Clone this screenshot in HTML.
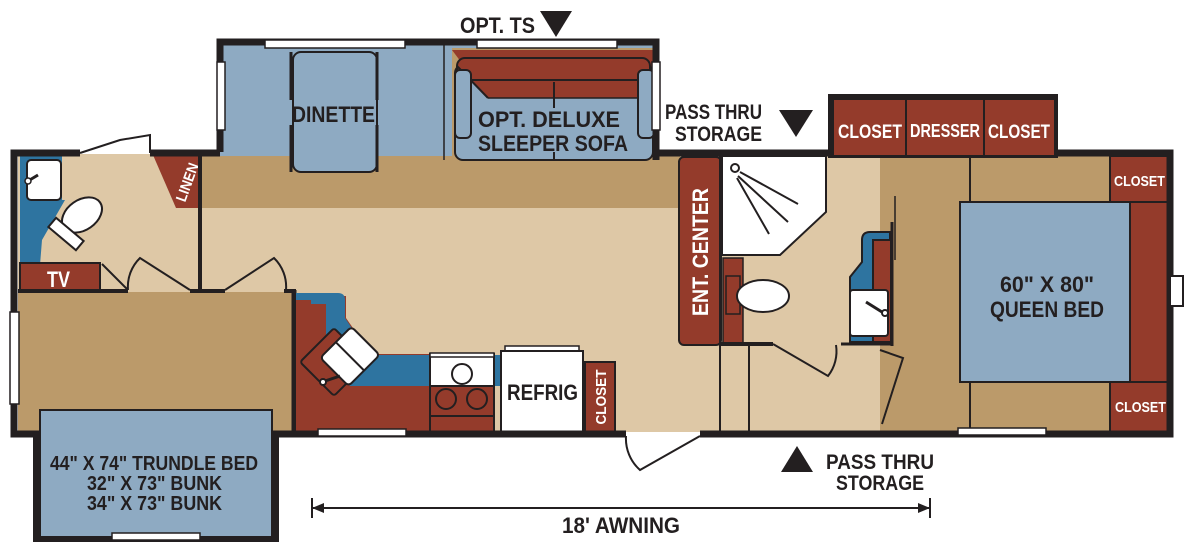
<!DOCTYPE html>
<html><head><meta charset="utf-8"><style>
html,body{margin:0;padding:0;background:#fff;}
svg{display:block}
text{font-family:"Liberation Sans Narrow","Liberation Sans",sans-serif;font-weight:bold;}
</style></head><body>
<svg width="1200" height="553" viewBox="0 0 1200 553" xmlns="http://www.w3.org/2000/svg">
<!-- floors -->
<rect x="18" y="154" width="1152" height="278" fill="#dec8a6"/>
<rect x="200" y="154" width="480" height="54" fill="#bb9a6a"/>
<rect x="18" y="292" width="274" height="140" fill="#bb9a6a"/>
<rect x="880" y="154" width="290" height="278" fill="#bb9a6a"/>
<!-- dinette slideout -->
<rect x="220" y="44" width="438" height="112" fill="#8eaac2"/>
<rect x="452" y="48" width="204" height="110" fill="#bb9a6a"/>
<polygon points="452,50 656,50 656,98 488,98" fill="#943b2b"/>
<rect x="455" y="65" width="198" height="95" rx="8" fill="#8eaac2" stroke="#231f20" stroke-width="2"/>
<polygon points="457,66 651,66 651,98 488,98" fill="#943b2b"/>
<rect x="457" y="58" width="193" height="22" rx="8" fill="#943b2b" stroke="#231f20" stroke-width="2"/>
<line x1="457" y1="66" x2="488" y2="98" stroke="#231f20" stroke-width="2"/>
<line x1="488" y1="98" x2="651" y2="98" stroke="#231f20" stroke-width="1.5"/>
<rect x="455" y="70" width="16" height="68" rx="5" fill="#8eaac2" stroke="#231f20" stroke-width="2"/>
<rect x="638" y="70" width="16" height="68" rx="5" fill="#8eaac2" stroke="#231f20" stroke-width="2"/>
<line x1="554" y1="82" x2="554" y2="108" stroke="#231f20" stroke-width="2"/>
<line x1="554" y1="152" x2="554" y2="160" stroke="#231f20" stroke-width="2"/>
<rect x="293" y="52" width="84" height="120" rx="8" fill="#8eaac2" stroke="#231f20" stroke-width="2"/>
<line x1="291" y1="52" x2="291" y2="100" stroke="#231f20" stroke-width="3"/>
<line x1="377" y1="52" x2="377" y2="100" stroke="#231f20" stroke-width="3"/>
<line x1="291" y1="125" x2="291" y2="172" stroke="#231f20" stroke-width="3"/>
<line x1="377" y1="125" x2="377" y2="172" stroke="#231f20" stroke-width="3"/>
<path d="M220,152 V42 H656 V160" fill="none" stroke="#231f20" stroke-width="7"/>
<line x1="444" y1="44" x2="444" y2="160" stroke="#231f20" stroke-width="1.5"/>
<rect x="265" y="40" width="140" height="8" fill="#fff" stroke="#231f20" stroke-width="1.5"/>
<rect x="477" y="40" width="140" height="8" fill="#fff" stroke="#231f20" stroke-width="1.5"/>
<rect x="217" y="62" width="8" height="68" fill="#fff" stroke="#231f20" stroke-width="1.5"/>
<rect x="652" y="62" width="8" height="68" fill="#fff" stroke="#231f20" stroke-width="1.5"/>
<text x="292" y="122" font-size="22" fill="#231f20" textLength="83" lengthAdjust="spacingAndGlyphs">DINETTE</text>
<text x="478" y="127" font-size="22" fill="#231f20" textLength="142" lengthAdjust="spacingAndGlyphs">OPT. DELUXE</text>
<text x="478" y="151" font-size="22" fill="#231f20" textLength="150" lengthAdjust="spacingAndGlyphs">SLEEPER SOFA</text>
<!-- bedroom slideout -->
<rect x="828" y="94" width="230" height="64" fill="#231f20"/>
<rect x="834" y="100" width="220" height="55" fill="#943b2b"/>
<line x1="906" y1="100" x2="906" y2="156" stroke="#231f20" stroke-width="2"/>
<line x1="984" y1="100" x2="984" y2="156" stroke="#231f20" stroke-width="2"/>
<text x="838" y="138" font-size="19" fill="#fff" textLength="64" lengthAdjust="spacingAndGlyphs">CLOSET</text>
<text x="910" y="137" font-size="18" fill="#fff" textLength="70" lengthAdjust="spacingAndGlyphs">DRESSER</text>
<text x="988" y="138" font-size="19" fill="#fff" textLength="62" lengthAdjust="spacingAndGlyphs">CLOSET</text>
<!-- left bath -->
<rect x="20" y="155" width="42" height="50" fill="#2e74a0"/>
<rect x="20" y="155" width="20" height="110" fill="#2e74a0"/>
<polygon points="40,200 65,200 42,240 40,265" fill="#2e74a0"/>
<rect x="27" y="160" width="34" height="40" rx="4" fill="#fff" stroke="#231f20" stroke-width="2"/>
<line x1="28" y1="181" x2="38" y2="175" stroke="#231f20" stroke-width="3"/>
<circle cx="28" cy="181" r="3" fill="#fff" stroke="#231f20" stroke-width="1.5"/>
<ellipse cx="82" cy="215" rx="22" ry="15" transform="rotate(-35 82 215)" fill="#fff" stroke="#231f20" stroke-width="2"/>
<rect x="48" y="228" width="36" height="12" transform="rotate(40 66 234)" fill="#fff" stroke="#231f20" stroke-width="2"/>
<rect x="20" y="263" width="80" height="28" fill="#943b2b" stroke="#231f20" stroke-width="2"/>
<text x="47" y="287" font-size="22" fill="#fff" textLength="23" lengthAdjust="spacingAndGlyphs">TV</text>
<polygon points="153,155 200,155 200,208 176,208" fill="#943b2b"/>
<text x="0" y="0" font-size="15" fill="#fff" transform="translate(192,184) rotate(-70)" text-anchor="middle" textLength="40" lengthAdjust="spacingAndGlyphs">LINEN</text>
<!-- left bedroom walls -->
<path d="M102,264 L128,290 M128,290 A40,40 0 0 1 140,258 L190,290" fill="none" stroke="#231f20" stroke-width="2"/>
<path d="M225,290 L274,258 A40,40 0 0 1 286,290" fill="none" stroke="#231f20" stroke-width="2"/>
<line x1="200" y1="152" x2="200" y2="292" stroke="#231f20" stroke-width="4"/>
<line x1="18" y1="291" x2="128" y2="291" stroke="#231f20" stroke-width="4"/>
<line x1="190" y1="291" x2="225" y2="291" stroke="#231f20" stroke-width="4"/>
<line x1="284" y1="291" x2="296" y2="291" stroke="#231f20" stroke-width="4"/>
<line x1="294" y1="290" x2="294" y2="432" stroke="#231f20" stroke-width="5"/>
<!-- kitchen -->
<rect x="296" y="296" width="134" height="136" fill="#943b2b"/>
<path d="M296,293 H338 Q345,293 345,300 V318 L370,355 L500,355 L500,386 H350 L310,330 V300 H296 Z" fill="#2e74a0"/>
<polygon points="346,318 346,296 430,296 430,354 371,354" fill="#dec8a6"/>
<rect x="296" y="300" width="15" height="132" fill="#943b2b"/>
<rect x="311" y="304" width="15" height="60" fill="#943b2b"/>
<rect x="310" y="338" width="48" height="48" transform="rotate(45 334 362)" fill="#943b2b" stroke="#231f20" stroke-width="2" rx="3"/>
<g transform="rotate(-45 345 350)"><rect x="322" y="338" width="44" height="40" rx="4" fill="#fff" stroke="#231f20" stroke-width="2"/><line x1="344" y1="338" x2="344" y2="378" stroke="#231f20" stroke-width="2"/></g>
<circle cx="323" cy="382" r="3" fill="#fff" stroke="#231f20" stroke-width="2"/>
<line x1="325" y1="381" x2="340" y2="376" stroke="#231f20" stroke-width="3"/>
<rect x="430" y="354" width="64" height="78" fill="#943b2b" stroke="#231f20" stroke-width="2"/>
<rect x="430" y="356" width="64" height="30" fill="#fff" stroke="#231f20" stroke-width="2"/>
<rect x="430" y="353" width="64" height="4" fill="#fff" stroke="#231f20" stroke-width="1.5"/>
<circle cx="462" cy="374" r="10" fill="#fff" stroke="#231f20" stroke-width="2"/>
<circle cx="446" cy="399" r="10" fill="none" stroke="#231f20" stroke-width="2"/>
<circle cx="477" cy="399" r="10" fill="none" stroke="#231f20" stroke-width="2"/>
<line x1="430" y1="416" x2="494" y2="416" stroke="#231f20" stroke-width="2"/>
<rect x="505" y="346" width="74" height="6" fill="#fff" stroke="#231f20" stroke-width="1.5"/>
<rect x="501" y="351" width="82" height="81" fill="#fff" stroke="#231f20" stroke-width="2"/>
<text x="507" y="400" font-size="22" fill="#231f20" textLength="71" lengthAdjust="spacingAndGlyphs">REFRIG</text>
<rect x="585" y="362" width="30" height="70" fill="#943b2b" stroke="#231f20" stroke-width="2"/>
<text x="0" y="0" font-size="15" fill="#fff" transform="translate(606,397) rotate(-90)" text-anchor="middle" textLength="55" lengthAdjust="spacingAndGlyphs">CLOSET</text>
<!-- ent center / bath -->
<rect x="679" y="157" width="42" height="188" rx="5" fill="#943b2b" stroke="#231f20" stroke-width="2"/>
<text x="0" y="0" font-size="22" fill="#fff" transform="translate(708,252) rotate(-90)" text-anchor="middle" textLength="128" lengthAdjust="spacingAndGlyphs">ENT. CENTER</text>
<polygon points="722,156 826,156 826,212 780,255 722,255" fill="#fff" stroke="#231f20" stroke-width="2"/>
<circle cx="735" cy="168" r="4" fill="#fff" stroke="#231f20" stroke-width="2"/>
<path d="M740,172 L798,204 M738,176 L788,222 M737,178 L769,234" stroke="#231f20" stroke-width="2"/>
<rect x="723" y="258" width="20" height="86" fill="#943b2b" stroke="#231f20" stroke-width="1.5"/>
<rect x="726" y="276" width="14" height="38" fill="#943b2b" stroke="#231f20" stroke-width="1.5"/>
<ellipse cx="763" cy="296" rx="26" ry="16" fill="#fff" stroke="#231f20" stroke-width="2"/>
<line x1="720" y1="155" x2="720" y2="432" stroke="#231f20" stroke-width="2"/>
<line x1="749" y1="345" x2="749" y2="432" stroke="#231f20" stroke-width="2"/>
<line x1="720" y1="344" x2="773" y2="344" stroke="#231f20" stroke-width="4"/>
<path d="M773,344 L828,376 A40,40 0 0 0 836,345" fill="none" stroke="#231f20" stroke-width="2"/>
<!-- right bath sink -->
<path d="M862,342 H890 V232 H870 Q862,232 862,240 V262 L850,277 V342 Z" fill="#2e74a0" stroke="#231f20" stroke-width="2"/>
<rect x="873" y="240" width="18" height="102" fill="#943b2b" stroke="#231f20" stroke-width="2"/>
<rect x="850" y="290" width="38" height="46" rx="3" fill="#fff" stroke="#231f20" stroke-width="2"/>
<line x1="866" y1="302" x2="882" y2="312" stroke="#231f20" stroke-width="3"/>
<circle cx="885" cy="313" r="3" fill="#fff" stroke="#231f20" stroke-width="2"/>
<line x1="841" y1="344" x2="892" y2="344" stroke="#231f20" stroke-width="3"/>
<line x1="892" y1="222" x2="892" y2="346" stroke="#231f20" stroke-width="3"/>
<line x1="895" y1="196" x2="895" y2="260" stroke="#231f20" stroke-width="1.5"/>
<path d="M880,350 L903,358 L882,424" fill="none" stroke="#231f20" stroke-width="2"/>
<!-- bedroom -->
<line x1="970" y1="155" x2="970" y2="430" stroke="#231f20" stroke-width="2"/>
<rect x="1110" y="156" width="58" height="46" fill="#943b2b" stroke="#231f20" stroke-width="2"/>
<rect x="1110" y="382" width="58" height="50" fill="#943b2b" stroke="#231f20" stroke-width="2"/>
<rect x="1130" y="202" width="38" height="180" fill="#943b2b" stroke="#231f20" stroke-width="2"/>
<rect x="960" y="202" width="170" height="180" fill="#8eaac2" stroke="#231f20" stroke-width="2"/>
<text x="1114" y="186" font-size="15" fill="#fff" textLength="51" lengthAdjust="spacingAndGlyphs">CLOSET</text>
<text x="1115" y="412" font-size="15" fill="#fff" textLength="51" lengthAdjust="spacingAndGlyphs">CLOSET</text>
<text x="1000" y="292" font-size="22" fill="#231f20" textLength="94" lengthAdjust="spacingAndGlyphs">60" X 80"</text>
<text x="990" y="317" font-size="22" fill="#231f20" textLength="114" lengthAdjust="spacingAndGlyphs">QUEEN BED</text>
<!-- outer walls -->
<path d="M80,153 H14 V434 H626" fill="none" stroke="#231f20" stroke-width="7"/>
<path d="M150,153 H220" fill="none" stroke="#231f20" stroke-width="7"/>
<path d="M656,153 H828 M1058,153 H1170 V434 H700" fill="none" stroke="#231f20" stroke-width="7"/>
<path d="M80,153 L120,140 L150,135 V153" fill="#fff" stroke="#231f20" stroke-width="2"/>
<rect x="10" y="312" width="9" height="92" fill="#fff" stroke="#231f20" stroke-width="1.5"/>
<rect x="318" y="429" width="88" height="7" fill="#fff" stroke="#231f20" stroke-width="1.5"/>
<rect x="958" y="428" width="88" height="7" fill="#fff" stroke="#231f20" stroke-width="1.5"/>
<rect x="1170" y="276" width="13" height="30" fill="#fff" stroke="#231f20" stroke-width="2"/>
<path d="M626,436 A42,42 0 0 0 640,470 L700,436" fill="none" stroke="#231f20" stroke-width="2"/>
<!-- bunk slide -->
<rect x="40" y="410" width="232" height="130" fill="#8eaac2" stroke="#231f20" stroke-width="2"/>
<rect x="33" y="432" width="8" height="108" fill="#231f20"/>
<rect x="272" y="432" width="7" height="108" fill="#231f20"/>
<rect x="33" y="536" width="246" height="6" fill="#231f20"/>
<rect x="112" y="533" width="88" height="7" fill="#fff" stroke="#231f20" stroke-width="1.5"/>
<text x="50" y="470" font-size="20" fill="#231f20" textLength="208" lengthAdjust="spacingAndGlyphs">44" X 74" TRUNDLE BED</text>
<text x="87" y="490" font-size="20" fill="#231f20" textLength="135" lengthAdjust="spacingAndGlyphs">32" X 73" BUNK</text>
<text x="87" y="510" font-size="20" fill="#231f20" textLength="135" lengthAdjust="spacingAndGlyphs">34" X 73" BUNK</text>
<!-- labels -->
<text x="460" y="33" font-size="22" fill="#231f20" textLength="75" lengthAdjust="spacingAndGlyphs">OPT. TS</text>
<polygon points="540,11 572,11 556,37" fill="#231f20"/>
<text x="665" y="119" font-size="21" fill="#231f20" textLength="97" lengthAdjust="spacingAndGlyphs">PASS THRU</text>
<text x="675" y="141" font-size="21" fill="#231f20" textLength="87" lengthAdjust="spacingAndGlyphs">STORAGE</text>
<polygon points="779,110 813,110 796,137" fill="#231f20"/>
<polygon points="781,472 813,472 797,446" fill="#231f20"/>
<text x="826" y="469" font-size="21" fill="#231f20" textLength="108" lengthAdjust="spacingAndGlyphs">PASS THRU</text>
<text x="836" y="490" font-size="21" fill="#231f20" textLength="88" lengthAdjust="spacingAndGlyphs">STORAGE</text>
<line x1="312" y1="508" x2="930" y2="508" stroke="#231f20" stroke-width="2"/>
<line x1="312" y1="498" x2="312" y2="518" stroke="#231f20" stroke-width="2"/>
<line x1="930" y1="498" x2="930" y2="518" stroke="#231f20" stroke-width="2"/>
<polygon points="312,508 324,503 324,513" fill="#231f20"/>
<polygon points="930,508 918,503 918,513" fill="#231f20"/>
<text x="562" y="533" font-size="22" fill="#231f20" textLength="118" lengthAdjust="spacingAndGlyphs">18' AWNING</text>
</svg>
</body></html>
